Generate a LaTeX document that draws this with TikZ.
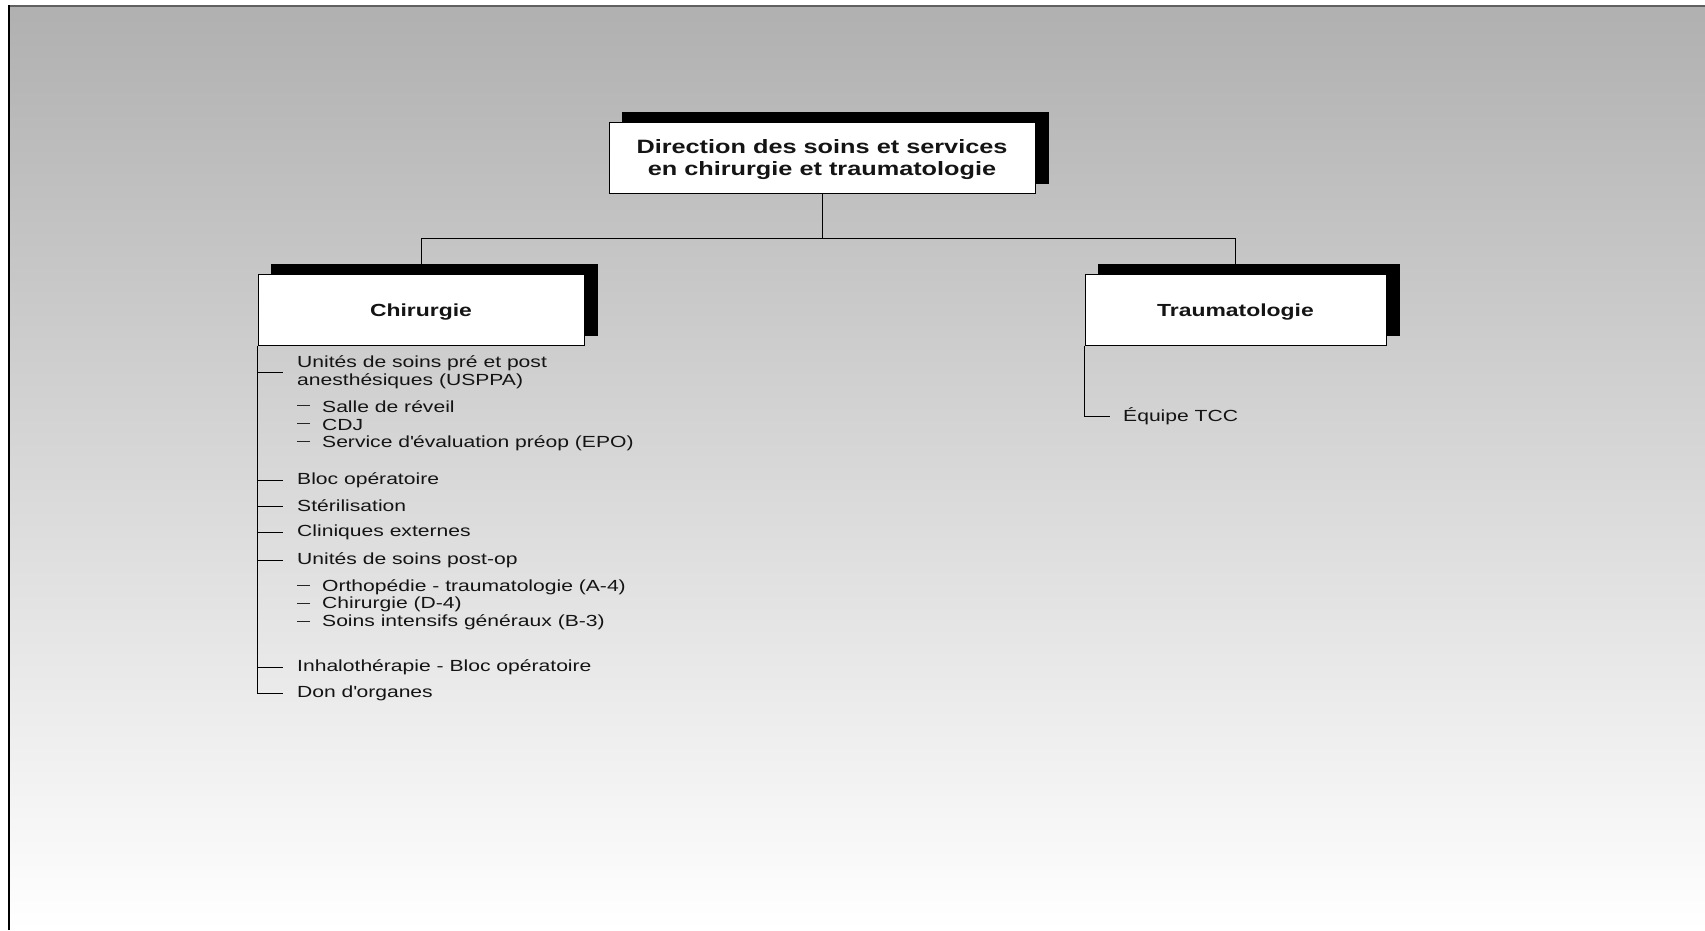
\documentclass[tikz,border=0pt]{standalone}
\usepackage{fontspec}
\setmainfont{Liberation Sans}[FakeStretch=1.31,Ligatures=ResetAll]
\newcommand\straightapos{\XeTeXglyph\XeTeXglyphindex "quotesingle"\relax}
\pgfdeclarelayer{bgzero}
\pgfdeclarelayer{bgone}
\pgfsetlayers{bgzero,bgone,main}
\begin{document}
\begin{tikzpicture}[x=1pt,y=-1pt,
  boxnode/.style={draw=black,line width=1pt,fill=white,inner sep=0pt,minimum height=71pt},
  shadowfill/.style={fill=black},
  link/.style={draw=black,line width=1pt},
  itemtext/.style={anchor=west,inner sep=0pt,text=black!92,font=\fontsize{16.1}{18.3}\selectfont,align=left},
  titletext/.style={font=\bfseries\fontsize{19.3}{22.3}\selectfont,align=center,text=black!92},
  headtext/.style={font=\bfseries\fontsize{17.5}{20}\selectfont,text=black!92}]
\useasboundingbox (0,0) rectangle (1705,930);

\node[boxnode,minimum width=426pt] (top) at (822,157.5) {};
\node[titletext] (toptxt) at (822,159.5) {Direction des soins et services\\en chirurgie et traumatologie};
\node[boxnode,minimum width=326pt] (chir) at (421,309.5) {};
\node[headtext] (chirtxt) at (421,312) {Chirurgie};
\node[boxnode,minimum width=301pt] (trau) at (1235.5,309.5) {};
\node[headtext] (trautxt) at (1235.5,312) {Traumatologie};

\begin{pgfonlayer}{bgzero}
\fill[white] (0,0) rectangle (1705,930);
\shade[top color={rgb,255:red,176;green,176;blue,176},bottom color=white] (8,5) rectangle (1705,930);
\draw[line width=2pt,draw={rgb,255:red,96;green,96;blue,96}] (8,5.5) -- (1705,5.5);
\draw[line width=2pt,draw=black] (8.5,5) -- (8.5,930);
\end{pgfonlayer}

\coordinate (hub) at (822,238);
\begin{pgfonlayer}{bgone}
\draw[link] (top.south) -- (hub);
\draw[link] (hub) -| ([yshift=10pt]chir.north);
\draw[link] (hub) -| ([yshift=10pt]trau.north);
\foreach \n in {top,chir,trau}{
  \fill[shadowfill] ([shift={(13,-10)}]\n.south west) rectangle ([shift={(13,-10)}]\n.north east);
}
\end{pgfonlayer}

% Chirurgie list
\node[itemtext] (c1) at (297,372) {Unités de soins pré et post\\anesthésiques (USPPA)};
\node[itemtext] (c1a) at (322,407) {Salle de réveil};
\node[itemtext] (c1b) at (322,425) {CDJ};
\node[itemtext] (c1c) at (322,443.3) {Service d\straightapos évaluation préop (EPO)};
\node[itemtext] (c2) at (297,480) {Bloc opératoire};
\node[itemtext] (c3) at (297,506) {Stérilisation};
\node[itemtext] (c4) at (297,532.5) {Cliniques externes};
\node[itemtext] (c5) at (297,560) {Unités de soins post-op};
\node[itemtext] (c5a) at (322,587) {Orthopédie - traumatologie (A-4)};
\node[itemtext] (c5b) at (322,604.5) {Chirurgie (D-4)};
\node[itemtext] (c5c) at (322,622.5) {Soins intensifs généraux (B-3)};
\node[itemtext] (c6) at (297,667) {Inhalothérapie - Bloc opératoire};
\node[itemtext] (c7) at (297,693.5) {Don d\straightapos organes};

\draw[link] (chir.south west) |- ([xshift=-14pt]c7.west);
\foreach \n in {c1,c2,c3,c4,c5,c6}{
  \draw[link] (chir.south west |- \n.west) -- ([xshift=-14pt]\n.west);
}
\foreach \n in {c1a,c1b,c1c,c5a,c5b,c5c}{
  \draw[line width=0.8pt,draw=black!85] ([xshift=-25pt,yshift=1.5pt]\n.west) -- ([xshift=-12pt,yshift=1.5pt]\n.west);
}

% Traumatologie list
\node[itemtext] (t1) at (1123,416.5) {Équipe TCC};
\draw[link] (trau.south west) |- ([xshift=-13pt]t1.west);
\end{tikzpicture}
\end{document}
